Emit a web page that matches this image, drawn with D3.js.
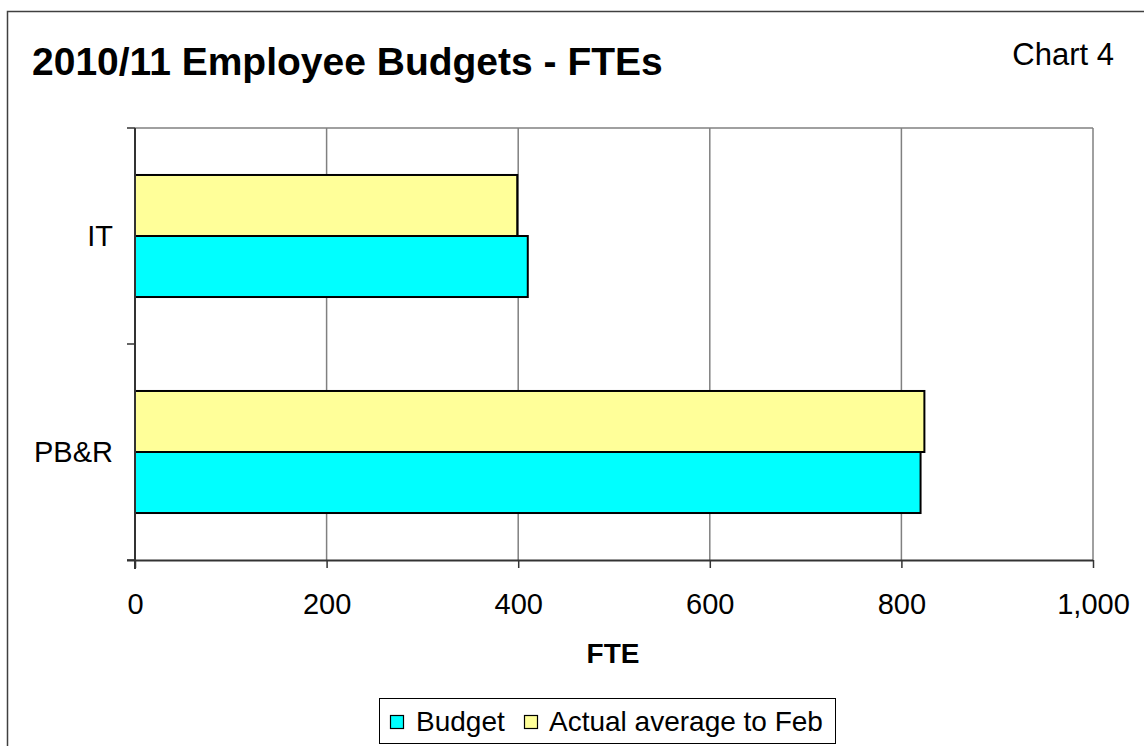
<!DOCTYPE html>
<html>
<head>
<meta charset="utf-8">
<script src="https://cdnjs.cloudflare.com/ajax/libs/d3/7.8.5/d3.min.js"></script>
<style>
  html, body { margin: 0; padding: 0; background: #fff; }
  svg { display: block; font-family: Arial, "Liberation Sans", sans-serif; }
</style>
</head>
<body>
<svg id="chart" width="1144" height="746"></svg>
<script>
// FTE figures per area
const categories = ["IT", "PB&R"];
const seriesNames = ["Budget", "Actual average to Feb"];
const budgetValues = [410, 820];
const actualValues = [399, 824];
const xTickValues = [0, 200, 400, 600, 800, 1000];

const colors = { "Budget": "#00FFFF", "Actual average to Feb": "#FFFF99" };

const svg = d3.select("#chart");

// outer frame
svg.append("rect")
  .attr("x", 7.5).attr("y", 11.5)
  .attr("width", 1150).attr("height", 750)
  .attr("fill", "#fff").attr("stroke", "#404040").attr("stroke-width", 1.5);

// titles
svg.append("text")
  .attr("x", 32).attr("y", 75)
  .attr("font-size", 39).attr("font-weight", "bold")
  .text("2010/11 Employee Budgets - FTEs");

svg.append("text")
  .attr("x", 1114).attr("y", 65)
  .attr("text-anchor", "end")
  .attr("font-size", 31)
  .text("Chart 4");

const plot = { left: 135, right: 1093, top: 128, bottom: 560 };

const x = d3.scaleLinear().domain([0, 1000]).range([plot.left, plot.right]);

const y0 = d3.scaleBand()
  .domain(categories)
  .range([plot.top, plot.bottom])
  .paddingInner(0.435)
  .paddingOuter(0.2175);

// Actual drawn above Budget within each category
const y1 = d3.scaleBand()
  .domain(["Actual average to Feb", "Budget"])
  .range([0, y0.bandwidth()]);

// gridlines
svg.append("g")
  .selectAll("line")
  .data(xTickValues.slice(1))
  .join("line")
  .attr("x1", d => x(d)).attr("x2", d => x(d))
  .attr("y1", plot.top).attr("y2", plot.bottom)
  .attr("stroke", "#808080").attr("stroke-width", 1.5);

// plot top border
svg.append("line")
  .attr("x1", plot.left).attr("x2", plot.right)
  .attr("y1", plot.top).attr("y2", plot.top)
  .attr("stroke", "#808080").attr("stroke-width", 1.5);

// bars
const rows = categories.map((c, i) => ({
  category: c,
  values: [
    { series: "Actual average to Feb", value: actualValues[i] },
    { series: "Budget", value: budgetValues[i] }
  ]
}));

svg.append("g")
  .selectAll("g")
  .data(rows)
  .join("g")
  .attr("transform", d => `translate(0,${y0(d.category)})`)
  .selectAll("rect")
  .data(d => d.values)
  .join("rect")
  .attr("x", x(0))
  .attr("y", d => y1(d.series))
  .attr("width", d => x(d.value) - x(0))
  .attr("height", y1.bandwidth())
  .attr("fill", d => colors[d.series])
  .attr("stroke", "#000")
  .attr("stroke-width", 2);

// x axis
const xAxis = svg.append("g")
  .attr("transform", `translate(0,${plot.bottom})`)
  .call(d3.axisBottom(x)
    .tickValues(xTickValues)
    .tickFormat(d3.format(","))
    .tickSizeInner(8)
    .tickSizeOuter(0)
    .tickPadding(25));
xAxis.select(".domain").attr("stroke", "#333").attr("stroke-width", 2)
  .attr("d", `M${plot.left - 8},0.5H${plot.right}`);
xAxis.selectAll(".tick line").attr("stroke", "#333").attr("stroke-width", 1.5);
xAxis.selectAll(".tick text")
  .attr("font-size", 29).attr("fill", "#000")
  .attr("font-family", "Arial, 'Liberation Sans', sans-serif");

// y axis (category)
const yAxis = svg.append("g")
  .attr("transform", `translate(${plot.left},0)`);
yAxis.append("line")
  .attr("x1", 0).attr("x2", 0)
  .attr("y1", plot.top).attr("y2", plot.bottom + 9)
  .attr("stroke", "#333").attr("stroke-width", 2);
const step = y0.step();
const bounds = d3.range(categories.length + 1).map(i => plot.top + i * step);
yAxis.selectAll("line.tk")
  .data(bounds)
  .join("line")
  .attr("class", "tk")
  .attr("x1", -8).attr("x2", 0)
  .attr("y1", d => d).attr("y2", d => d)
  .attr("stroke", "#333").attr("stroke-width", 1.5);
yAxis.selectAll("text")
  .data(categories)
  .join("text")
  .attr("x", -22)
  .attr("y", d => y0(d) + y0.bandwidth() / 2)
  .attr("dy", "0.36em")
  .attr("text-anchor", "end")
  .attr("font-size", 29)
  .text(d => d);

// x axis title
svg.append("text")
  .attr("x", 613).attr("y", 663)
  .attr("text-anchor", "middle")
  .attr("font-size", 28).attr("font-weight", "bold")
  .text("FTE");

// legend
const legend = svg.append("g");
legend.append("rect")
  .attr("x", 379.5).attr("y", 698.5)
  .attr("width", 456).attr("height", 45)
  .attr("fill", "#fff").attr("stroke", "#000").attr("stroke-width", 1);
const legendItems = [
  { name: "Budget", sx: 390, tx: 416 },
  { name: "Actual average to Feb", sx: 524, tx: 549 }
];
legend.selectAll("rect.sw")
  .data(legendItems)
  .join("rect")
  .attr("class", "sw")
  .attr("x", d => d.sx + 0.5).attr("y", 715.5)
  .attr("width", 13).attr("height", 13)
  .attr("fill", d => colors[d.name])
  .attr("stroke", "#000").attr("stroke-width", 1.2);
legend.selectAll("text")
  .data(legendItems)
  .join("text")
  .attr("x", d => d.tx).attr("y", 731)
  .attr("font-size", 28)
  .text(d => d.name);
</script>
</body>
</html>
